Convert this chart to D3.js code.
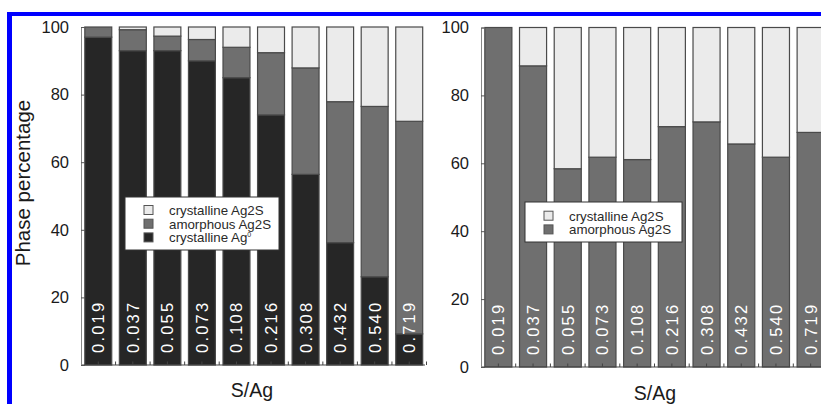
<!DOCTYPE html>
<html>
<head>
<meta charset="utf-8">
<script src="https://cdn.jsdelivr.net/npm/d3@7"></script>
<style>
  html, body { margin: 0; padding: 0; background: #fff; }
  svg { display: block; font-family: "Liberation Sans", Arial, sans-serif; }
</style>
</head>
<body>
<svg id="chart" width="821" height="404"></svg>
<script>
// S/Ag ratios (categories)
const ratios = ["0.019", "0.037", "0.055", "0.073", "0.108", "0.216", "0.308", "0.432", "0.540", "0.719"];
const yTicks = [0, 20, 40, 60, 80, 100];

// Panel 1: phase percentages (bottom to top)
const crystAgA   = [97, 93, 93, 90, 85, 74, 56.4, 36.2, 26.1, 9.2];
const amorphA    = [3, 6.2, 4.3, 6.3, 9, 18.4, 31.5, 41.7, 50.4, 62.9];
const crystAg2SA = [0, 0.8, 2.7, 3.7, 6, 7.6, 12.1, 22.1, 23.5, 27.9];

// Panel 2: phase percentages (bottom to top)
const amorphB    = [100, 88.7, 58.4, 61.8, 61.1, 70.8, 72.2, 65.7, 61.8, 69.1];
const crystAg2SB = [0, 11.3, 41.6, 38.2, 38.9, 29.2, 27.8, 34.3, 38.2, 30.9];

const colors = { crystAg: "#262626", amorph: "#6f6f6f", crystAg2S: "#ebebeb" };
const svg = d3.select("#chart");

// frame lines
svg.append("rect").attr("x", 7).attr("y", 12).attr("width", 821).attr("height", 4).attr("fill", "#0000ff");
svg.append("rect").attr("x", 7).attr("y", 12).attr("width", 5).attr("height", 400).attr("fill", "#0000ff");

function panel(opts) {
  const g = svg.append("g");
  const x = d3.scaleBand().domain(ratios).range(opts.xRange).paddingInner(0.22).paddingOuter(0.11);
  const y = d3.scaleLinear().domain([0, 100]).range(opts.yRange);

  const rows = ratios.map((r, i) => {
    const o = { ratio: r };
    opts.series.forEach(s => { o[s.key] = s.values[i]; });
    return o;
  });
  const stacked = d3.stack().keys(opts.series.map(s => s.key))(rows);

  g.selectAll("g.layer").data(stacked).join("g")
    .attr("class", "layer")
    .attr("fill", d => colors[d.key])
    .selectAll("rect").data(d => d).join("rect")
    .attr("x", d => x(d.data.ratio))
    .attr("width", x.bandwidth())
    .attr("y", d => y(d[1]))
    .attr("height", d => y(d[0]) - y(d[1]))
    .attr("stroke", "#4a4a4a")
    .attr("stroke-width", 1.2);

  // x axis baseline with ticks at bar centres and gaps
  const x0 = opts.xRange[0], x1 = opts.xAxisEnd;
  g.append("line").attr("x1", x0).attr("x2", x1).attr("y1", y(0)).attr("y2", y(0))
    .attr("stroke", "#444").attr("stroke-width", 1.2);
  const step = x.step();
  const tickXs = [];
  ratios.forEach(r => {
    tickXs.push(x(r) + x.bandwidth() / 2);
    tickXs.push(x(r) + x.bandwidth() + (step - x.bandwidth()) / 2);
  });
  g.selectAll("line.xt").data(tickXs).join("line").attr("class", "xt")
    .attr("x1", d => d).attr("x2", d => d)
    .attr("y1", y(0)).attr("y2", y(0) - 3.5)
    .attr("stroke", "#444").attr("stroke-width", 1);

  // y axis
  const yAxis = d3.axisLeft(y).tickValues(yTicks).tickSize(-4).tickPadding(12);
  const ya = g.append("g").attr("transform", `translate(${x0},0)`).call(yAxis);
  ya.select(".domain").attr("stroke", "#888");
  ya.selectAll(".tick line").attr("stroke", "#555");
  ya.selectAll(".tick text").attr("font-size", 16.5).attr("fill", "#1a1a1a")
    .attr("font-family", "Liberation Sans, Arial, sans-serif");

  // ratio labels inside the bars
  g.selectAll("text.rl").data(ratios).join("text").attr("class", "rl")
    .attr("transform", d => `translate(${x(d) + x.bandwidth() / 2},${y(0) - 12}) rotate(-90)`)
    .attr("dominant-baseline", "central")
    .attr("fill", "#fff")
    .attr("font-size", 16.5)
    .attr("letter-spacing", 2.2)
    .text(d => d);

  // x title
  g.append("text").attr("x", opts.xTitleX).attr("y", opts.xTitleY)
    .attr("text-anchor", "middle").attr("font-size", 19.5).attr("fill", "#1a1a1a").text("S/Ag");

  // legend
  const L = opts.legend;
  const lg = g.append("g").attr("transform", `translate(${L.x},${L.y})`);
  lg.append("rect").attr("width", L.w).attr("height", L.h)
    .attr("fill", "#fff").attr("stroke", "#333").attr("stroke-width", 1);
  L.items.forEach((it, i) => {
    const cy = L.firstRow + i * 13.7;
    lg.append("rect").attr("x", 19).attr("y", cy - 4.5).attr("width", 9).attr("height", 9)
      .attr("fill", colors[it.key]).attr("stroke", "#555").attr("stroke-width", 1);
    const t = lg.append("text").attr("x", 44).attr("y", cy).attr("dominant-baseline", "central")
      .attr("font-size", 13.3).attr("fill", "#2a2a2a");
    t.append("tspan").text(it.label);
    if (it.sup) t.append("tspan").attr("dy", -3.5).attr("font-size", 7).text(it.sup);
  });
}

panel({
  xRange: [81, 426.5], xAxisEnd: 425, yRange: [365, 27],
  series: [
    { key: "crystAg", values: crystAgA },
    { key: "amorph", values: amorphA },
    { key: "crystAg2S", values: crystAg2SA }
  ],
  xTitleX: 252, xTitleY: 397,
  legend: {
    x: 125, y: 197, w: 154, h: 53, firstRow: 13,
    items: [
      { key: "crystAg2S", label: "crystalline Ag2S" },
      { key: "amorph", label: "amorphous Ag2S" },
      { key: "crystAg", label: "crystalline Ag", sup: "0" }
    ]
  }
});

panel({
  xRange: [481, 828], xAxisEnd: 828, yRange: [367, 27.5],
  series: [
    { key: "amorph", values: amorphB },
    { key: "crystAg2S", values: crystAg2SB }
  ],
  xTitleX: 655, xTitleY: 400,
  legend: {
    x: 525, y: 202, w: 157, h: 40, firstRow: 13.7,
    items: [
      { key: "crystAg2S", label: "crystalline Ag2S" },
      { key: "amorph", label: "amorphous Ag2S" }
    ]
  }
});

// shared y title
svg.append("text")
  .attr("transform", "translate(22,183) rotate(-90)")
  .attr("text-anchor", "middle").attr("dominant-baseline", "central")
  .attr("font-size", 20.5).attr("fill", "#1a1a1a")
  .text("Phase percentage");
</script>
</body>
</html>
